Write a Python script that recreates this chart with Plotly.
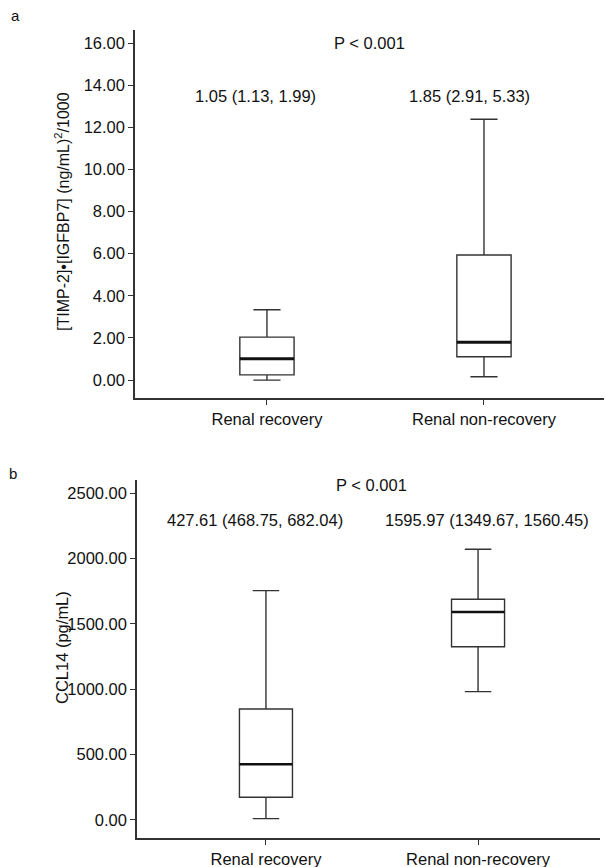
import plotly.graph_objects as go

W, H = 606, 867

categories = ["Renal recovery", "Renal non-recovery"]

# Panel a: [TIMP-2]•[IGFBP7]
a_q1 = [0.25, 1.11]
a_median = [1.01, 1.80]
a_q3 = [2.04, 5.94]
a_low = [0.0, 0.16]
a_high = [3.34, 12.38]
a_text = ["1.05 (1.13, 1.99)", "1.85 (2.91, 5.33)"]
a_ticks = [0, 2, 4, 6, 8, 10, 12, 14, 16]

# Panel b: CCL14
b_q1 = [174, 1326]
b_median = [426, 1592]
b_q3 = [849, 1689]
b_low = [10, 982]
b_high = [1755, 2072]
b_text = ["427.61 (468.75, 682.04)", "1595.97 (1349.67, 1560.45)"]
b_ticks = [0, 500, 1000, 1500, 2000, 2500]

p_text = "P < 0.001"

FONT = "Liberation Sans, Arial, sans-serif"
INK = "#111111"
LINE = "#333333"
BOXW = 0.25
FS = 16.5


def px(x):
    return x / W


def py(y):
    return 1 - y / H


fig = go.Figure()

box_style = dict(boxpoints=False, width=BOXW, whiskerwidth=0.5,
                 fillcolor="white", line=dict(color=LINE, width=1.4),
                 showlegend=False, hoverinfo="skip")

fig.add_trace(go.Box(x=categories, q1=a_q1, median=a_median, q3=a_q3,
                     lowerfence=a_low, upperfence=a_high,
                     xaxis="x", yaxis="y", **box_style))
fig.add_trace(go.Box(x=categories, q1=b_q1, median=b_median, q3=b_q3,
                     lowerfence=b_low, upperfence=b_high,
                     xaxis="x2", yaxis="y2", **box_style))

shapes = []
for i, m in enumerate(a_median):
    shapes.append(dict(type="line", xref="x", yref="y", x0=i - BOXW / 2, x1=i + BOXW / 2,
                       y0=m, y1=m, line=dict(color="#111111", width=3)))
for i, m in enumerate(b_median):
    shapes.append(dict(type="line", xref="x2", yref="y2", x0=i - BOXW / 2, x1=i + BOXW / 2,
                       y0=m, y1=m, line=dict(color="#111111", width=2.5)))

axis_common = dict(showline=True, linecolor=LINE, linewidth=1.5, showgrid=False,
                   zeroline=False, ticks="outside", ticklen=5, tickcolor=LINE,
                   tickwidth=1, tickfont=dict(size=FS, color=INK, family=FONT),
                   automargin=False)


def note(text, x, y, size=FS, angle=0):
    return dict(text=text, x=px(x), y=py(y), xref="paper", yref="paper",
                xanchor="center", yanchor="middle", showarrow=False, textangle=angle,
                font=dict(size=size, color=INK, family=FONT))


annotations = [
    note("a", 15, 16, 15),
    note("b", 13, 473, 15),
    note(p_text, 370, 43),
    note(p_text, 371, 485),
    note("[TIMP-2]•[IGFBP7] (ng/mL)<sup>2</sup>/1000", 62, 212, 16, -90),
    note("CCL14 (pg/mL)", 62, 648, 16.5, -90),
]
for xc, t in zip([255, 469], a_text):
    annotations.append(note(t, xc, 96))
for xc, t in zip([255, 487], b_text):
    annotations.append(note(t, xc, 520))

fig.update_layout(
    width=W, height=H,
    margin=dict(l=0, r=0, t=0, b=0),
    paper_bgcolor="white", plot_bgcolor="white",
    font=dict(family=FONT, color=INK),
    xaxis=dict(domain=[px(135), px(604)], range=[-0.608, 1.553], anchor="y",
               type="category", **axis_common),
    yaxis=dict(domain=[py(398), py(30)], range=[-0.85, 16.62], anchor="x",
               tickvals=a_ticks, tickformat=".2f", **axis_common),
    xaxis2=dict(domain=[px(137), px(600)], range=[-0.608, 1.575], anchor="y2",
                type="category", **axis_common),
    yaxis2=dict(domain=[py(838), py(480)], range=[-138, 2602], anchor="x2",
                tickvals=b_ticks, tickformat=".2f", **axis_common),
    shapes=shapes,
    annotations=annotations,
)

fig.write_html("out.html", config={"displayModeBar": False},
               post_script="document.body.style.margin='0';document.body.style.overflow='hidden';")
